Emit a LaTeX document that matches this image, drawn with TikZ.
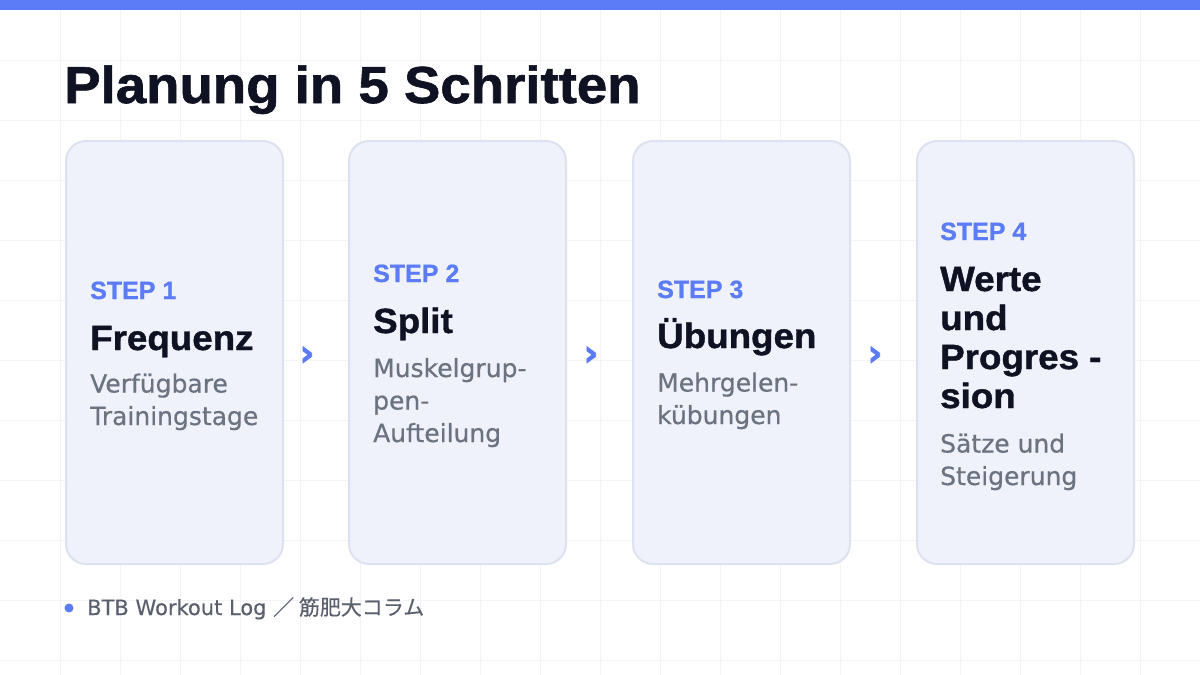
\documentclass[tikz,border=0pt]{standalone}
\usepackage{fontspec}
\setmainfont{DejaVu Sans}
\newfontface\ttlface[FakeStretch=1.05,FakeBold=1.2]{Liberation Sans Bold}
\newfontface\stepface[FakeBold=0.8]{Liberation Sans Bold}
\newfontface\descface[FakeBold=0.5]{DejaVu Sans}
\newfontface\chevface[FakeBold=2]{DejaVu Sans Bold}
\newfontface\footface[FakeBold=0.3]{DejaVu Sans}
\newfontfamily\cjkfont[FakeBold=0.3]{Noto Sans CJK JP}
\definecolor{accent}{HTML}{5B7CF6}
\definecolor{ink}{HTML}{0F1222}
\definecolor{muted}{HTML}{6B7280}
\definecolor{foot}{HTML}{5A5F6E}
\definecolor{cardfill}{HTML}{EFF2FB}
\definecolor{cardline}{HTML}{DDE2F0}
\definecolor{gridc}{HTML}{F2F4F8}
\tikzset{
  gridline/.style={draw=gridc, line width=1pt},
  card/.style={draw=cardline, fill=cardfill, line width=2pt, rounded corners=20pt,
    minimum width=217pt, minimum height=423pt, inner sep=0pt},
  steplbl/.style={anchor=base west, inner sep=0pt, text=accent,
    font=\stepface\fontsize{25}{30}\selectfont},
  ttl/.style={anchor=base west, inner sep=0pt, text=ink, align=left,
    font=\ttlface\fontsize{35}{39}\selectfont},
  desc/.style={anchor=base west, inner sep=0pt, text=muted, align=left,
    font=\descface\fontsize{25}{32.5}\selectfont},
  chev/.style={text=accent, inner sep=0pt, font=\chevface\fontsize{36}{36}\selectfont},
}
\begin{document}
\begin{tikzpicture}[x=1pt,y=-1pt]
\useasboundingbox (0,0) rectangle (1200,675);
\fill[white] (0,0) rectangle (1200,675);
\foreach \i in {60,120,...,1140} \draw[gridline] (\i,0) -- (\i,675);
\foreach \j in {60,120,...,660} \draw[gridline] (0,\j) -- (1200,\j);
\fill[accent] (0,0) rectangle (1200,10);

\node[anchor=base west, inner sep=0pt, text=ink, font=\ttlface\fontsize{52}{60}\selectfont] (title) at (64,103) {Planung in 5 Schritten};

\node[card] (card1) at (174.5,352.5) {};
\node[card] (card2) at (457.5,352.5) {};
\node[card] (card3) at (741.5,352.5) {};
\node[card] (card4) at (1025.5,352.5) {};

% multi-line nodes: base anchor is the last line's baseline
\node[steplbl] (s1) at (90,299) {STEP 1};
\node[ttl] (t1) at (90,350) {Frequenz};
\node[desc] (d1) at (90,425) {Verfügbare\\Trainingstage};

\node[steplbl] (s2) at (373,282) {STEP 2};
\node[ttl] (t2) at (373,333) {Split};
\node[desc] (d2) at (373,442) {Muskelgrup-\\pen-\\Aufteilung};

\node[steplbl] (s3) at (657,298) {STEP 3};
\node[ttl] (t3) at (657,348) {Übungen};
\node[desc] (d3) at (657,424) {Mehrgelen-\\kübungen};

\node[steplbl] (s4) at (940,240) {STEP 4};
\node[ttl] (t4) at (940,408) {Werte\\und\\Progres -\\sion};
\node[desc] (d4) at (940,485) {Sätze und\\Steigerung};

\node[chev] (a1) at (307,356) {›};
\node[chev] (a2) at (591,356) {›};
\node[chev] (a3) at (875,356) {›};

\fill[accent] (69,608) circle (4.5pt);
\node[anchor=base west, inner sep=0pt, text=foot, font=\footface\fontsize{21}{24}\selectfont] (footer) at (87,615) {BTB Workout Log {\cjkfont ／ 筋肥大コラム}};
\end{tikzpicture}
\end{document}
